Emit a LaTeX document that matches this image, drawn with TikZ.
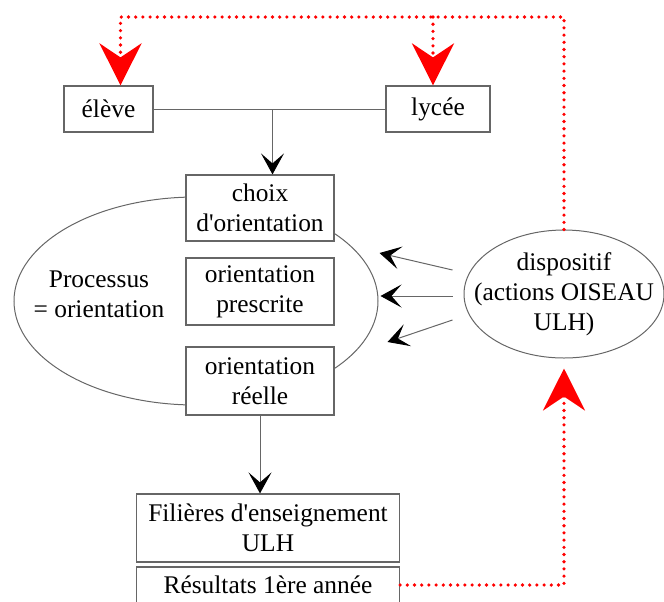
\documentclass[tikz,border=0pt]{standalone}
\usepackage{fontspec}
\setmainfont{Liberation Serif}
\usetikzlibrary{arrows.meta,positioning,shapes.geometric}

\begin{document}
\begin{tikzpicture}[
    x=0.5pt, y=-0.5pt,
    font=\fontsize{12.7}{15}\selectfont,
    box/.style={draw=black!60, fill=white, line width=0.6pt, align=center, inner sep=0pt, minimum width=74pt},
    oval/.style={ellipse, draw=black!60, line width=0.5pt, inner sep=0pt},
    link/.style={draw=black!60, line width=0.5pt},
    arrow/.style={link, -{Stealth[black, length=10.5pt, width=11.5pt, inset=5pt]}},
    feedback/.style={draw=red, line width=1.8pt, line cap=round, dash pattern=on 0pt off 3.6pt},
    redarrow/.style={feedback, -{Stealth[red, length=21pt, width=21pt, inset=7pt]}},
  ]
  \useasboundingbox (0,0) rectangle (664,601);

  % haut : eleve et lycee
  \node[box, minimum width=44.5pt, minimum height=23pt] (eleve) at (108.5,109) {élève};
  \node[box, minimum width=52pt, minimum height=23pt] (lycee) at (438,109) {lycée};
  \coordinate (junction) at (272.5,109);
  \coordinate (topline) at (0,17);

  % processus d'orientation
  \node[oval, minimum width=182pt, minimum height=104pt] (processus) at (196,301) {};
  \node[align=center] (processustext) at (99,294) {Processus\\= orientation};
  \node[box, minimum height=33pt] (choix) at (260,208) {choix\\d\textquotesingle orientation};
  \node[box, minimum height=33.5pt] (prescrite) at (260,291.5) {orientation\\prescrite};
  \node[box, minimum height=34pt] (reelle) at (260,381) {orientation\\réelle};

  % dispositif
  \node[oval, minimum width=100pt, minimum height=64pt] (dispositif) at (564,294) {};
  \node[align=center] (dispositiftext) at (dispositif) {dispositif\\(actions OISEAU\\ULH)};

  % bas
  \node[box, minimum width=131.5pt, minimum height=34pt] (filieres) at (268,528) {Filières d\textquotesingle enseignement\\ULH};
  \node[box, minimum width=131.5pt, minimum height=18pt] (resultats) at (268,585) {Résultats 1ère année};

  \draw[link] (eleve) -- (lycee);
  \draw[arrow] (junction) -- (junction |- choix.north);
  \draw[arrow] (reelle.south) -- (reelle.south |- filieres.north);

  \draw[arrow] ([shift={(-11,-24)}]dispositif.west) -- ([shift={(1,-48)}]processus.east);
  \draw[arrow] ([shift={(-11,2)}]dispositif.west) -- ([shift={(2,-5)}]processus.east);
  \draw[arrow] ([shift={(-11,26)}]dispositif.west) -- ([shift={(9,41)}]processus.east);

  % retours en pointille
  \draw[redarrow] (resultats.east) -| ([yshift=-5pt]dispositif.south);
  \draw[redarrow] (dispositif.north) |- ([xshift=6pt]eleve.north |- topline) -- ([xshift=6pt]eleve.north);
  \draw[redarrow] ([xshift=-2.5pt]lycee.north |- topline) -- ([xshift=-2.5pt]lycee.north);
\end{tikzpicture}
\end{document}
